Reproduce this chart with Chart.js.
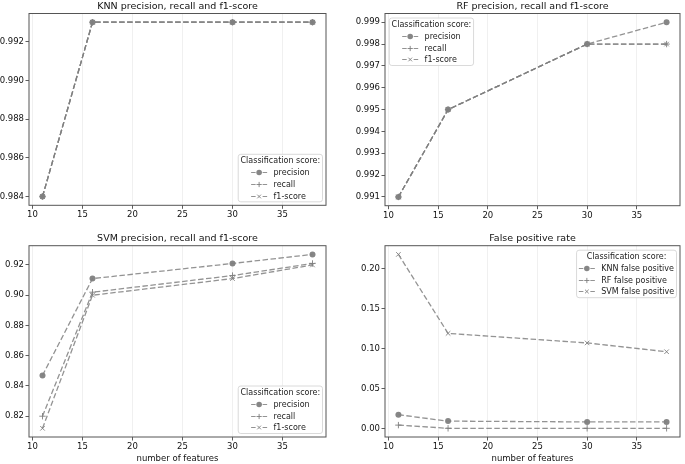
<!DOCTYPE html>
<html>
<head>
<meta charset="utf-8">
<script src="https://cdn.jsdelivr.net/npm/chart.js@4.4.1/dist/chart.umd.min.js"></script>
<style>
  html, body { margin: 0; padding: 0; background: #fff; }
  #wrap { position: relative; width: 685px; height: 464px; overflow: hidden; }
  canvas { position: absolute; }
</style>
</head>
<body>
<div id="wrap">
  <canvas id="knnChart" width="340" height="225" style="left:0;top:0"></canvas>
  <canvas id="rfChart" width="345" height="225" style="left:340px;top:0"></canvas>
  <canvas id="svmChart" width="340" height="239" style="left:0;top:225px"></canvas>
  <canvas id="fprChart" width="345" height="239" style="left:340px;top:225px"></canvas>
</div>
<script>
// ---- data ----
const features = [11, 16, 30, 38];
const xTicks = [10, 15, 20, 25, 30, 35];

const knnPrecision = [0.984, 0.993, 0.993, 0.993];
const knnRecall    = [0.984, 0.993, 0.993, 0.993];
const knnF1        = [0.984, 0.993, 0.993, 0.993];
const knnTicks     = [0.984, 0.986, 0.988, 0.990, 0.992];

const rfPrecision = [0.991, 0.995, 0.998, 0.999];
const rfRecall    = [0.991, 0.995, 0.998, 0.998];
const rfF1        = [0.991, 0.995, 0.998, 0.998];
const rfTicks     = [0.991, 0.992, 0.993, 0.994, 0.995, 0.996, 0.997, 0.998, 0.999];

const svmPrecision = [0.847, 0.911, 0.921, 0.927];
const svmRecall    = [0.820, 0.902, 0.913, 0.921];
const svmF1        = [0.812, 0.900, 0.911, 0.920];
const svmTicks     = [0.82, 0.84, 0.86, 0.88, 0.90, 0.92];

const knnFalsePos = [0.017, 0.009, 0.008, 0.008];
const rfFalsePos  = [0.004, 0.000, 0.000, 0.000];
const svmFalsePos = [0.218, 0.119, 0.107, 0.096];
const fprTicks    = [0.00, 0.05, 0.10, 0.15, 0.20];

const scoreLabels = ['precision', 'recall', 'f1-score'];
const fprLabels = ['KNN false positive', 'RF false positive', 'SVM false positive'];

const FONT = '"DejaVu Sans", sans-serif';
const markers = ['circle', 'cross', 'crossRot'];
const LINE = 'rgba(128,128,128,0.85)';
const DASH = [5.5, 2.5];

// matplotlib-ish 5% margins around the data
function padRange(values) {
    const lo = Math.min(...values), hi = Math.max(...values);
    const m = (hi - lo) * 0.05;
    return [lo - m, hi + m];
}

function makeDatasets(labels, series) {
    return series.map((vals, i) => ({
        label: labels[i],
        data: features.map((x, j) => ({ x: x, y: vals[j] })),
        borderColor: LINE,
        backgroundColor: 'rgba(128,128,128,0.9)',
        borderWidth: 1.3,
        borderDash: DASH,
        pointStyle: markers[i],
        pointRadius: i === 0 ? 3 : 3.2,
        pointBorderWidth: i === 0 ? 0 : 1,
        pointBorderColor: 'rgba(128,128,128,0.9)',
        pointBackgroundColor: 'rgba(128,128,128,0.95)',
        tension: 0
    }));
}

// axes frame, title over the axes and a matplotlib style legend box
const frameLegend = {
    id: 'frameLegend',
    afterDatasetsDraw(chart, args, opts) {
        const ctx = chart.ctx;
        const a = chart.chartArea;
        ctx.save();
        ctx.strokeStyle = '#555';
        ctx.lineWidth = 1;
        ctx.strokeRect(a.left, a.top, a.right - a.left, a.bottom - a.top);

        // title centred on the axes box
        ctx.font = '9.5px ' + FONT;
        ctx.fillStyle = '#111';
        ctx.textAlign = 'center';
        ctx.textBaseline = 'middle';
        ctx.fillText(opts.title, (a.left + a.right) / 2, a.top - opts.titleGap);

        ctx.font = '8px ' + FONT;
        const title = 'Classification score:';
        const sets = chart.data.datasets;
        const titleW = ctx.measureText(title).width;
        const labelW = Math.max(...sets.map(d => ctx.measureText(d.label).width));
        const handleLen = 16, handleGap = 6.4, padX = 2.3, boxH = 47.5, gap = 3.5;
        const blockW = handleLen + handleGap + labelW;
        const innerW = Math.max(titleW, blockW);
        const boxW = innerW + padX * 2;
        let bx, by;
        if (opts.corner === 'br') { bx = a.right - gap - boxW; by = a.bottom - gap - boxH; }
        else if (opts.corner === 'tl') { bx = a.left + 4.3; by = a.top + 4.5; }
        else { bx = a.right - gap - boxW; by = a.top + 4.5; }

        ctx.beginPath();
        ctx.roundRect(bx, by, boxW, boxH, 2.5);
        ctx.fillStyle = 'rgba(255,255,255,0.85)';
        ctx.fill();
        ctx.strokeStyle = '#d0d0d0';
        ctx.lineWidth = 0.8;
        ctx.stroke();

        ctx.fillStyle = '#222';
        ctx.fillText(title, bx + boxW / 2, by + 6.5);

        const hx = bx + padX + (innerW - blockW) / 2;
        sets.forEach((d, i) => {
            const y = Math.round(by + 18 + i * 11.6) + 0.5;
            // dashed handle: dash, marker, dash
            ctx.strokeStyle = LINE;
            ctx.lineWidth = 1.2;
            ctx.setLineDash([]);
            ctx.beginPath();
            ctx.moveTo(hx, y); ctx.lineTo(hx + 4.5, y);
            ctx.moveTo(hx + 11.5, y); ctx.lineTo(hx + 16, y);
            ctx.stroke();
            ctx.fillStyle = d.pointBackgroundColor;
            ctx.strokeStyle = d.pointBorderColor;
            ctx.lineWidth = d.pointBorderWidth;
            Chart.helpers.drawPoint(ctx, {
                pointStyle: d.pointStyle, radius: i === 0 ? 2.8 : 2.6,
                borderWidth: d.pointBorderWidth, rotation: 0
            }, hx + handleLen / 2, y);
            ctx.fillStyle = '#222';
            ctx.textAlign = 'left';
            ctx.fillText(d.label, hx + handleLen + handleGap, y);
            ctx.textAlign = 'center';
        });
        ctx.restore();
    }
};

function makeChart(id, cfg) {
    const [ymin, ymax] = padRange(cfg.series.flat());
    const [xmin, xmax] = padRange(features);
    return new Chart(document.getElementById(id), {
        type: 'line',
        data: { datasets: makeDatasets(cfg.labels, cfg.series) },
        plugins: [frameLegend],
        options: {
            responsive: false,
            animation: false,
            layout: { padding: { left: 0, right: cfg.padRight, top: cfg.padTop, bottom: 0 } },
            plugins: {
                legend: { display: false },
                tooltip: { enabled: false },
                title: { display: false },
                frameLegend: { corner: cfg.corner, title: cfg.title, titleGap: 7 }
            },
            scales: {
                x: {
                    type: 'linear',
                    min: xmin,
                    max: xmax,
                    afterBuildTicks: s => { s.ticks = xTicks.map(v => ({ value: v })); },
                    afterFit: s => { s.height = cfg.xAxisH; },
                    grid: { color: '#ececec', lineWidth: 0.8, tickColor: '#333', tickLength: 3.5, tickWidth: 0.8 },
                    border: { display: false },
                    ticks: {
                        color: '#111', padding: 1.2, maxRotation: 0,
                        font: { family: FONT, size: 8.5 },
                        callback: v => String(v)
                    },
                    title: {
                        display: !!cfg.xTitle,
                        text: cfg.xTitle || '',
                        color: '#111',
                        font: { family: FONT, size: 8.5, lineHeight: 1.2 },
                        padding: { top: 0, bottom: 0.6 }
                    }
                },
                y: {
                    min: ymin,
                    max: ymax,
                    afterBuildTicks: s => { s.ticks = cfg.yTicks.map(v => ({ value: v })); },
                    afterFit: s => { s.width = cfg.yAxisW; },
                    grid: { drawOnChartArea: false, tickColor: '#333', tickLength: 3.5, tickWidth: 0.8 },
                    border: { display: false },
                    ticks: {
                        color: '#111', padding: 1.5,
                        font: { family: FONT, size: 8.5 },
                        callback: v => v.toFixed(cfg.decimals)
                    }
                }
            }
        }
    });
}

makeChart('knnChart', {
    title: 'KNN precision, recall and f1-score',
    labels: scoreLabels,
    series: [knnPrecision, knnRecall, knnF1],
    yTicks: knnTicks, decimals: 3, corner: 'br',
    yAxisW: 29, xAxisH: 19.7, padRight: 14, padTop: 13.5
});

makeChart('rfChart', {
    title: 'RF precision, recall and f1-score',
    labels: scoreLabels,
    series: [rfPrecision, rfRecall, rfF1],
    yTicks: rfTicks, decimals: 3, corner: 'tl',
    yAxisW: 45, xAxisH: 19.3, padRight: 2, padTop: 13.5
});

makeChart('svmChart', {
    title: 'SVM precision, recall and f1-score',
    labels: scoreLabels,
    series: [svmPrecision, svmRecall, svmF1],
    yTicks: svmTicks, decimals: 2, corner: 'br',
    yAxisW: 29, xAxisH: 27, padRight: 14, padTop: 20.7,
    xTitle: 'number of features'
});

makeChart('fprChart', {
    title: 'False positive rate',
    labels: fprLabels,
    series: [knnFalsePos, rfFalsePos, svmFalsePos],
    yTicks: fprTicks, decimals: 2, corner: 'tr',
    yAxisW: 45, xAxisH: 27, padRight: 2, padTop: 20.7,
    xTitle: 'number of features'
});
</script>
</body>
</html>
